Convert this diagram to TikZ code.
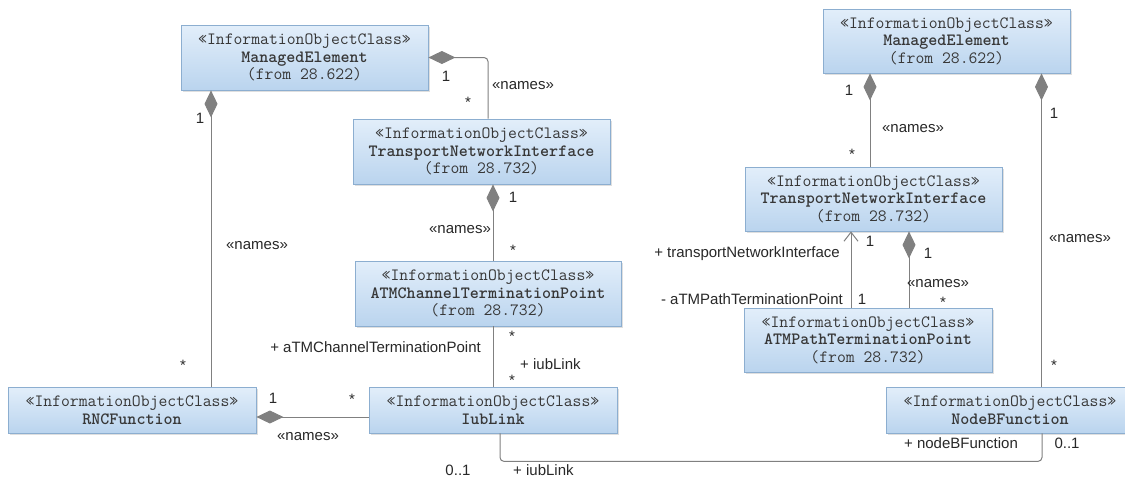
\documentclass[tikz,border=0pt]{standalone}
\usepackage{fontspec}
\setmainfont{Liberation Sans}
\usetikzlibrary{arrows.meta,shadows}
\definecolor{boxtop}{RGB}{226,238,250}
\definecolor{boxbot}{RGB}{186,212,238}
\definecolor{boxline}{RGB}{140,174,208}
\definecolor{conn}{RGB}{128,128,128}
\definecolor{txt}{RGB}{55,55,55}
\definecolor{lbltxt}{RGB}{40,40,40}
\begin{document}
\begin{tikzpicture}[x=1pt,y=-1pt,
  cls/.style={draw=boxline, line width=0.8pt, top color=boxtop, bottom color=boxbot,
    inner sep=0pt, align=center, text=txt,
    font=\ttfamily\fontsize{17.2}{17.5}\selectfont,
    drop shadow={shadow xshift=2pt, shadow yshift=-2pt, opacity=0.25}},
  lbl/.style={inner sep=0pt, text=lbltxt, font=\fontsize{15}{18}\selectfont},
  star/.style={lbl, yshift=-3pt},
  conn/.style={draw=conn, line width=1pt, rounded corners=4pt},
  comp/.style={conn, {Diamond[length=27pt,width=13pt,fill=conn]}-},
  nav/.style={conn, -{Straight Barb[length=9pt,width=14pt]}}
]
\fill[white] (0,0) rectangle (1125,477);
\useasboundingbox (0,0) rectangle (1125,477);

% classes
\node[cls, minimum width=247, minimum height=65] (me1) at (304.5,57.5)
  {«InformationObjectClass»\\{\bfseries ManagedElement}\\(from 28.622)};
\node[cls, minimum width=257, minimum height=65] (tni1) at (481.5,151.5)
  {«InformationObjectClass»\\{\bfseries TransportNetworkInterface}\\(from 28.732)};
\node[cls, minimum width=266, minimum height=65] (atmc) at (488,293.5)
  {«InformationObjectClass»\\{\bfseries ATMChannelTerminationPoint}\\(from 28.732)};
\node[cls, minimum width=248, minimum height=46] (rnc) at (132,410)
  {«InformationObjectClass»\\{\bfseries RNCFunction}};
\node[cls, minimum width=248, minimum height=46] (iub) at (493,410)
  {«InformationObjectClass»\\{\bfseries IubLink}};
\node[cls, minimum width=247, minimum height=64] (me2) at (946.5,41)
  {«InformationObjectClass»\\{\bfseries ManagedElement}\\(from 28.622)};
\node[cls, minimum width=257, minimum height=64] (tni2) at (873.5,199)
  {«InformationObjectClass»\\{\bfseries TransportNetworkInterface}\\(from 28.732)};
\node[cls, minimum width=248, minimum height=64] (ap) at (868,340)
  {«InformationObjectClass»\\{\bfseries ATMPathTerminationPoint}\\(from 28.732)};
\node[cls, minimum width=248, minimum height=46] (nb) at (1010,410)
  {«InformationObjectClass»\\{\bfseries NodeBFunction}};

% connectors
\draw[comp] (me1.east) -| ([xshift=6.5pt]tni1.north);
\draw[comp] ([xshift=-93.5pt]me1.south) -- ([xshift=-93.5pt]me1.south |- rnc.north);
\draw[comp] ([xshift=11.5pt]tni1.south) -- ([xshift=11.5pt]tni1.south |- atmc.north);
\draw[conn] ([xshift=5pt]atmc.south) -- (iub.north);
\draw[comp] ([yshift=-7pt]rnc.east) -- ([yshift=-7pt]rnc.east -| iub.west);
\draw[conn] ([xshift=7pt]iub.south) -- ++(0,28) -| ([xshift=32pt]nb.south);
\draw[comp] ([xshift=-76.5pt]me2.south) -- ([xshift=-76.5pt]me2.south |- tni2.north);
\draw[comp] ([xshift=95pt]me2.south) -- ([xshift=95pt]me2.south |- nb.north);
\draw[nav] ([xshift=-17pt]ap.north) -- ([xshift=-17pt]ap.north |- tni2.south);
\draw[comp] ([xshift=35.5pt]tni2.south) -- ([xshift=35.5pt]tni2.south |- ap.north);

% labels: ME1 - TNI1
\node[lbl] (a1) at (446,76) {1};
\node[star] (a2) at (468,99) {*};
\node[lbl] (a3) at (523,86) {«names»};
% ME1 - RNC
\node[lbl] (b1) at (200,118) {1};
\node[lbl] (b2) at (257,246) {«names»};
\node[star] (b3) at (183,362) {*};
% TNI1 - ATMC
\node[lbl] (c1) at (513,197) {1};
\node[lbl] (c2) at (460,230) {«names»};
\node[star] (c3) at (513,247) {*};
% ATMC - IubLink
\node[star] (d1) at (512,333) {*};
\node[lbl, anchor=east] (d2) at (481,347) {+ aTMChannelTerminationPoint};
\node[lbl, anchor=west] (d3) at (520,364) {+ iubLink};
\node[star] (d4) at (512,377) {*};
% RNC - IubLink
\node[lbl] (e1) at (273,398) {1};
\node[star] (e2) at (352,396) {*};
\node[lbl] (e3) at (308,437) {«names»};
% IubLink - NodeB
\node[lbl] (f1) at (458,470) {0..1};
\node[lbl, anchor=west] (f2) at (513,470) {+ iubLink};
\node[lbl] (f3) at (961,443) {+ nodeBFunction};
\node[lbl] (f4) at (1067,443) {0..1};
% ME2 - TNI2
\node[lbl] (g1) at (849,90) {1};
\node[lbl] (g2) at (913,129) {«names»};
\node[star] (g3) at (852,151) {*};
% ME2 - NodeB
\node[lbl] (h1) at (1054,113) {1};
\node[lbl] (h2) at (1080,239) {«names»};
\node[star] (h3) at (1054,362) {*};
% ATMPath -> TNI2
\node[lbl, anchor=east] (i1) at (840,254) {+ transportNetworkInterface};
\node[lbl] (i2) at (870,241) {1};
\node[lbl, anchor=east] (i3) at (843,299) {- aTMPathTerminationPoint};
\node[lbl] (i4) at (862,299) {1};
% TNI2 - ATMPath
\node[lbl] (j1) at (928,253) {1};
\node[lbl] (j2) at (938,284) {«names»};
\node[star] (j3) at (943,299) {*};
\end{tikzpicture}
\end{document}
